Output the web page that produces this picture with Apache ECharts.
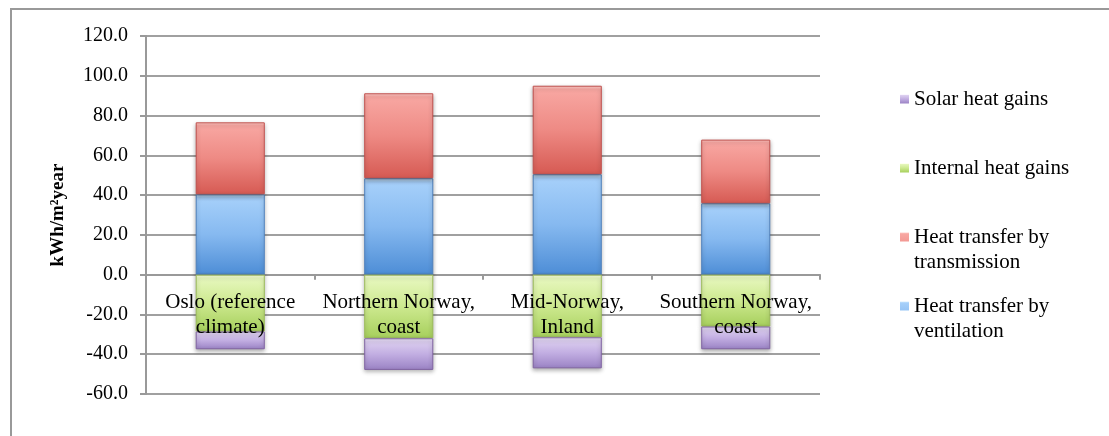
<!DOCTYPE html>
<html lang="en">
<head>
    <meta charset="UTF-8">
    <script type="text/javascript" src="https://cdn.jsdelivr.net/npm/echarts@6/dist/echarts.min.js"></script>
    <style>
        html, body { margin: 0; padding: 0; background: #fff; }
        #heatChart { width: 1109px; height: 436px; }
    </style>
</head>
<body>
    <div id="heatChart"></div>
</body>

<script>
    // 数据
    var regions = ["Oslo (reference\nclimate)", "Northern Norway,\ncoast", "Mid-Norway,\nInland", "Southern Norway,\ncoast"];
    var ventilation = [40.4, 48.5, 50.5, 35.9];
    var transmission = [36.2, 42.7, 44.5, 32.0];
    var internalGains = [-28.6, -32.0, -31.5, -26.1];
    var solarGains = [-8.9, -15.9, -15.6, -11.4];
    var yTicks = { min: -60, max: 120, step: 20 };

    var serifFont = "'Liberation Serif', 'DejaVu Serif', serif";

    // 布局
    var gridTop = 36, gridBottom = 42, chartH = 436;
    var plotH = chartH - gridTop - gridBottom;
    // x轴移到0刻度处
    var zeroOffset = -plotH * (0 - yTicks.min) / (yTicks.max - yTicks.min);

    function grad(stops) {
        var list = [];
        for (var i = 0; i < stops.length; i++) {
            list.push({ offset: stops[i][0], color: stops[i][1] });
        }
        return new echarts.graphic.LinearGradient(0, 0, 0, 1, list);
    }

    function barSeries(name, data, fill, border) {
        return {
            name: name,
            type: "bar",
            stack: "heat",
            barWidth: "41%",
            data: data,
            itemStyle: {
                color: fill,
                borderColor: border,
                borderWidth: 1,
                shadowBlur: 4,
                shadowOffsetY: 2,
                shadowColor: "rgba(0,0,0,0.3)"
            },
            emphasis: { disabled: true }
        };
    }

    var legendLines = {
        "Heat transfer by transmission": "Heat transfer by\ntransmission",
        "Heat transfer by ventilation": "Heat transfer by\nventilation"
    };

    //图例 - 两行的图例方块对齐第一行
    function oneLegend(name, top, twoLines) {
        return {
            data: [name],
            left: 900,
            top: top,
            padding: 0,
            orient: "vertical",
            itemWidth: 9,
            itemHeight: twoLines ? 34 : 9,
            itemGap: 0,
            icon: twoLines ? "path://M0,0H9V9H0Z M0,34H0.01V34.01H0Z" : "rect",
            itemStyle: { borderWidth: 0, shadowBlur: 0, shadowOffsetY: 0 },
            selectedMode: false,
            formatter: function (n) { return legendLines[n] || n; },
            textStyle: { fontFamily: serifFont, fontSize: 21, color: "#000", lineHeight: 25 }
        };
    }

    var heatChart = echarts.init(document.getElementById("heatChart"));
    heatChart.setOption({
        animation: false,
        backgroundColor: "#fff",
        graphic: [{
            type: "rect",
            shape: { x: 11, y: 9, width: 1120, height: 450 },
            style: { fill: "none", stroke: "#999", lineWidth: 2 },
            silent: true
        }],
        grid: { left: 146, right: 289, top: gridTop, bottom: gridBottom, outerBoundsMode: "none" },
        legend: [
            oneLegend("Solar heat gains", 86.5, false),
            oneLegend("Internal heat gains", 155.5, false),
            oneLegend("Heat transfer by transmission", 224.5, true),
            oneLegend("Heat transfer by ventilation", 293.5, true)
        ],
        xAxis: [{
            // 轴线和刻度（柱子下面）
            type: "category",
            data: regions,
            position: "bottom",
            offset: zeroOffset,
            axisLine: { onZero: false, lineStyle: { color: "#999", width: 2 } },
            axisTick: { show: true, length: 5, lineStyle: { color: "#999", width: 2 } },
            axisLabel: { show: false },
            splitLine: { show: false }
        }, {
            // 类目标签（柱子上面）
            type: "category",
            data: regions,
            position: "bottom",
            offset: zeroOffset,
            z: 10,
            axisLine: { show: false, onZero: false },
            axisTick: { show: false },
            axisLabel: {
                interval: 0,
                margin: 15,
                color: "#000",
                fontFamily: serifFont,
                fontSize: 21,
                lineHeight: 25
            },
            splitLine: { show: false }
        }],
        yAxis: {
            type: "value",
            min: yTicks.min,
            max: yTicks.max,
            interval: yTicks.step,
            name: "kWh/m²year",
            nameLocation: "middle",
            nameGap: 78,
            nameTextStyle: { fontFamily: serifFont, fontSize: 19, fontWeight: "bold", color: "#000" },
            axisLine: { show: true, lineStyle: { color: "#999", width: 2 } },
            axisTick: { show: true, length: 6, lineStyle: { color: "#999", width: 2 } },
            axisLabel: {
                margin: 18,
                color: "#000",
                fontFamily: serifFont,
                fontSize: 20,
                formatter: function (v) { return v.toFixed(1); }
            },
            splitLine: { lineStyle: { color: "#a0a0a0", width: 2 } }
        },
        series: [
            barSeries("Heat transfer by ventilation", ventilation,
                grad([[0, "#d8f0ff"], [0.04, "#a6d0fa"], [0.5, "#86b9f0"], [1, "#4d8dd6"]]), "#4f81bd"),
            barSeries("Heat transfer by transmission", transmission,
                grad([[0, "#ffd0cc"], [0.04, "#f8a7a2"], [0.5, "#ee8a84"], [1, "#d65a53"]]), "#c0504d"),
            barSeries("Internal heat gains", internalGains,
                grad([[0, "#fbffe0"], [0.06, "#e6f7bd"], [0.5, "#cde98f"], [1, "#a6cf5c"]]), "#9bbb59"),
            barSeries("Solar heat gains", solarGains,
                grad([[0, "#f7f0ff"], [0.08, "#ddd0f0"], [0.5, "#c2aee2"], [1, "#9a82c4"]]), "#8064a2")
        ]
    });
</script>
</html>
